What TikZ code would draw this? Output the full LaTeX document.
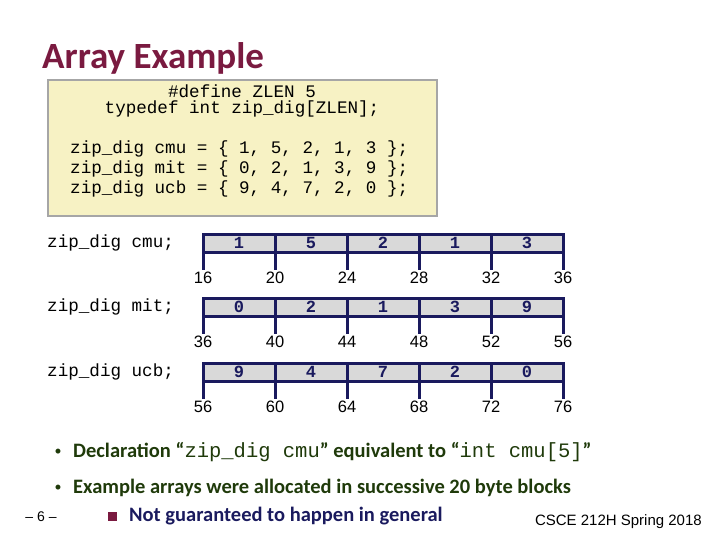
\documentclass[tikz,border=0pt]{standalone}
\usepackage{fontspec}
\setmainfont{Carlito}
\newfontfamily\monof{Liberation Mono}
\newfontfamily\arialf{Liberation Sans}
\definecolor{navy}{HTML}{1A1A5E}
\definecolor{maroon}{HTML}{7A1A40}
\definecolor{dgreen}{HTML}{1F3A0A}
\definecolor{codebg}{HTML}{F7F2C4}
\definecolor{cellbg}{HTML}{D9D9D9}
\tikzset{
  cell/.style={draw=navy,line width=3pt,fill=cellbg,minimum width=72pt,minimum height=18pt,inner sep=0pt,font=\monof\bfseries\fontsize{17}{17}\selectfont,text=navy},
  tick/.style={draw=navy,line width=3pt},
  addr/.style={font=\arialf\fontsize{16.5}{16.5}\selectfont,inner sep=0pt},
  code/.style={font=\monof\fontsize{17.6}{20}\selectfont,inner sep=0pt,anchor=west},
  bullet/.style={font=\bfseries\fontsize{20.5}{20.5}\selectfont,text=dgreen,inner sep=0pt,anchor=west}
}
\begin{document}
\begin{tikzpicture}[x=1pt,y=-1pt]
\useasboundingbox (0,0) rectangle (720,540);
\node[anchor=west,font=\bfseries\fontsize{37}{37}\selectfont,text=maroon,inner sep=0pt] (title) at (42,58) {Array Example};
\node[draw=gray!70,line width=2pt,fill=codebg,minimum width=389pt,minimum height=136pt,anchor=north west,inner sep=0pt] (box) at (47,79) {};
\node[code,anchor=center] (c1) at (242,91) {\#define ZLEN 5};
\node[code,anchor=center] (c2) at (242,109) {typedef int zip\_dig[ZLEN];};
\node[code] (c3) at (70,149) {zip\_dig cmu = \{ 1, 5, 2, 1, 3 \};};
\node[code] (c4) at (70,169) {zip\_dig mit = \{ 0, 2, 1, 3, 9 \};};
\node[code] (c5) at (70,189) {zip\_dig ucb = \{ 9, 4, 7, 2, 0 \};};
\foreach \r/\lab/\y/\vals/\base in {1/cmu/243/{1,5,2,1,3}/16, 2/mit/307/{0,2,1,3,9}/36, 3/ucb/372/{9,4,7,2,0}/56}{
  \node[code] (lab\r) at (47,\y) {zip\_dig \lab;};
  \foreach \v [count=\i] in \vals {
    \node[cell] (cell\r\i) at ({203+72*(\i-0.5)},\y) {\v};
  }
  \foreach \k in {0,...,5}{
    \coordinate (t\r\k) at ({203+72*\k},\y+9);
    \draw[tick] (t\r\k) -- ++(0,18);
    \pgfmathtruncatemacro{\ad}{\base+4*\k}
    \node[addr] (a\r\k) at ({203+72*\k},\y+35) {\ad};
  }
}
\node[bullet] (b1) at (73,452) {Declaration “{\monof\mdseries zip\_dig cmu}” equivalent to “{\monof\mdseries int cmu[5]}”};
\node[bullet] (b2) at (73,488) {Example arrays were allocated in successive 20 byte blocks};
\node[text=dgreen,font=\fontsize{14}{14}\selectfont] (d1) at (58,452) {•};
\node[text=dgreen,font=\fontsize{14}{14}\selectfont] (d2) at (58,488) {•};
\node[fill=maroon,minimum size=9pt,inner sep=0pt] (sq) at (112,516) {};
\node[bullet,text=navy] (b3) at (129,516) {Not guaranteed to happen in general};
\node[font=\arialf\fontsize{14}{14}\selectfont,inner sep=0pt] (pg) at (41,517) {– 6 –};
\node[font=\arialf\fontsize{15}{15}\selectfont,anchor=east,inner sep=0pt] (ft) at (702,522) {CSCE 212H Spring 2018};
\end{tikzpicture}
\end{document}
